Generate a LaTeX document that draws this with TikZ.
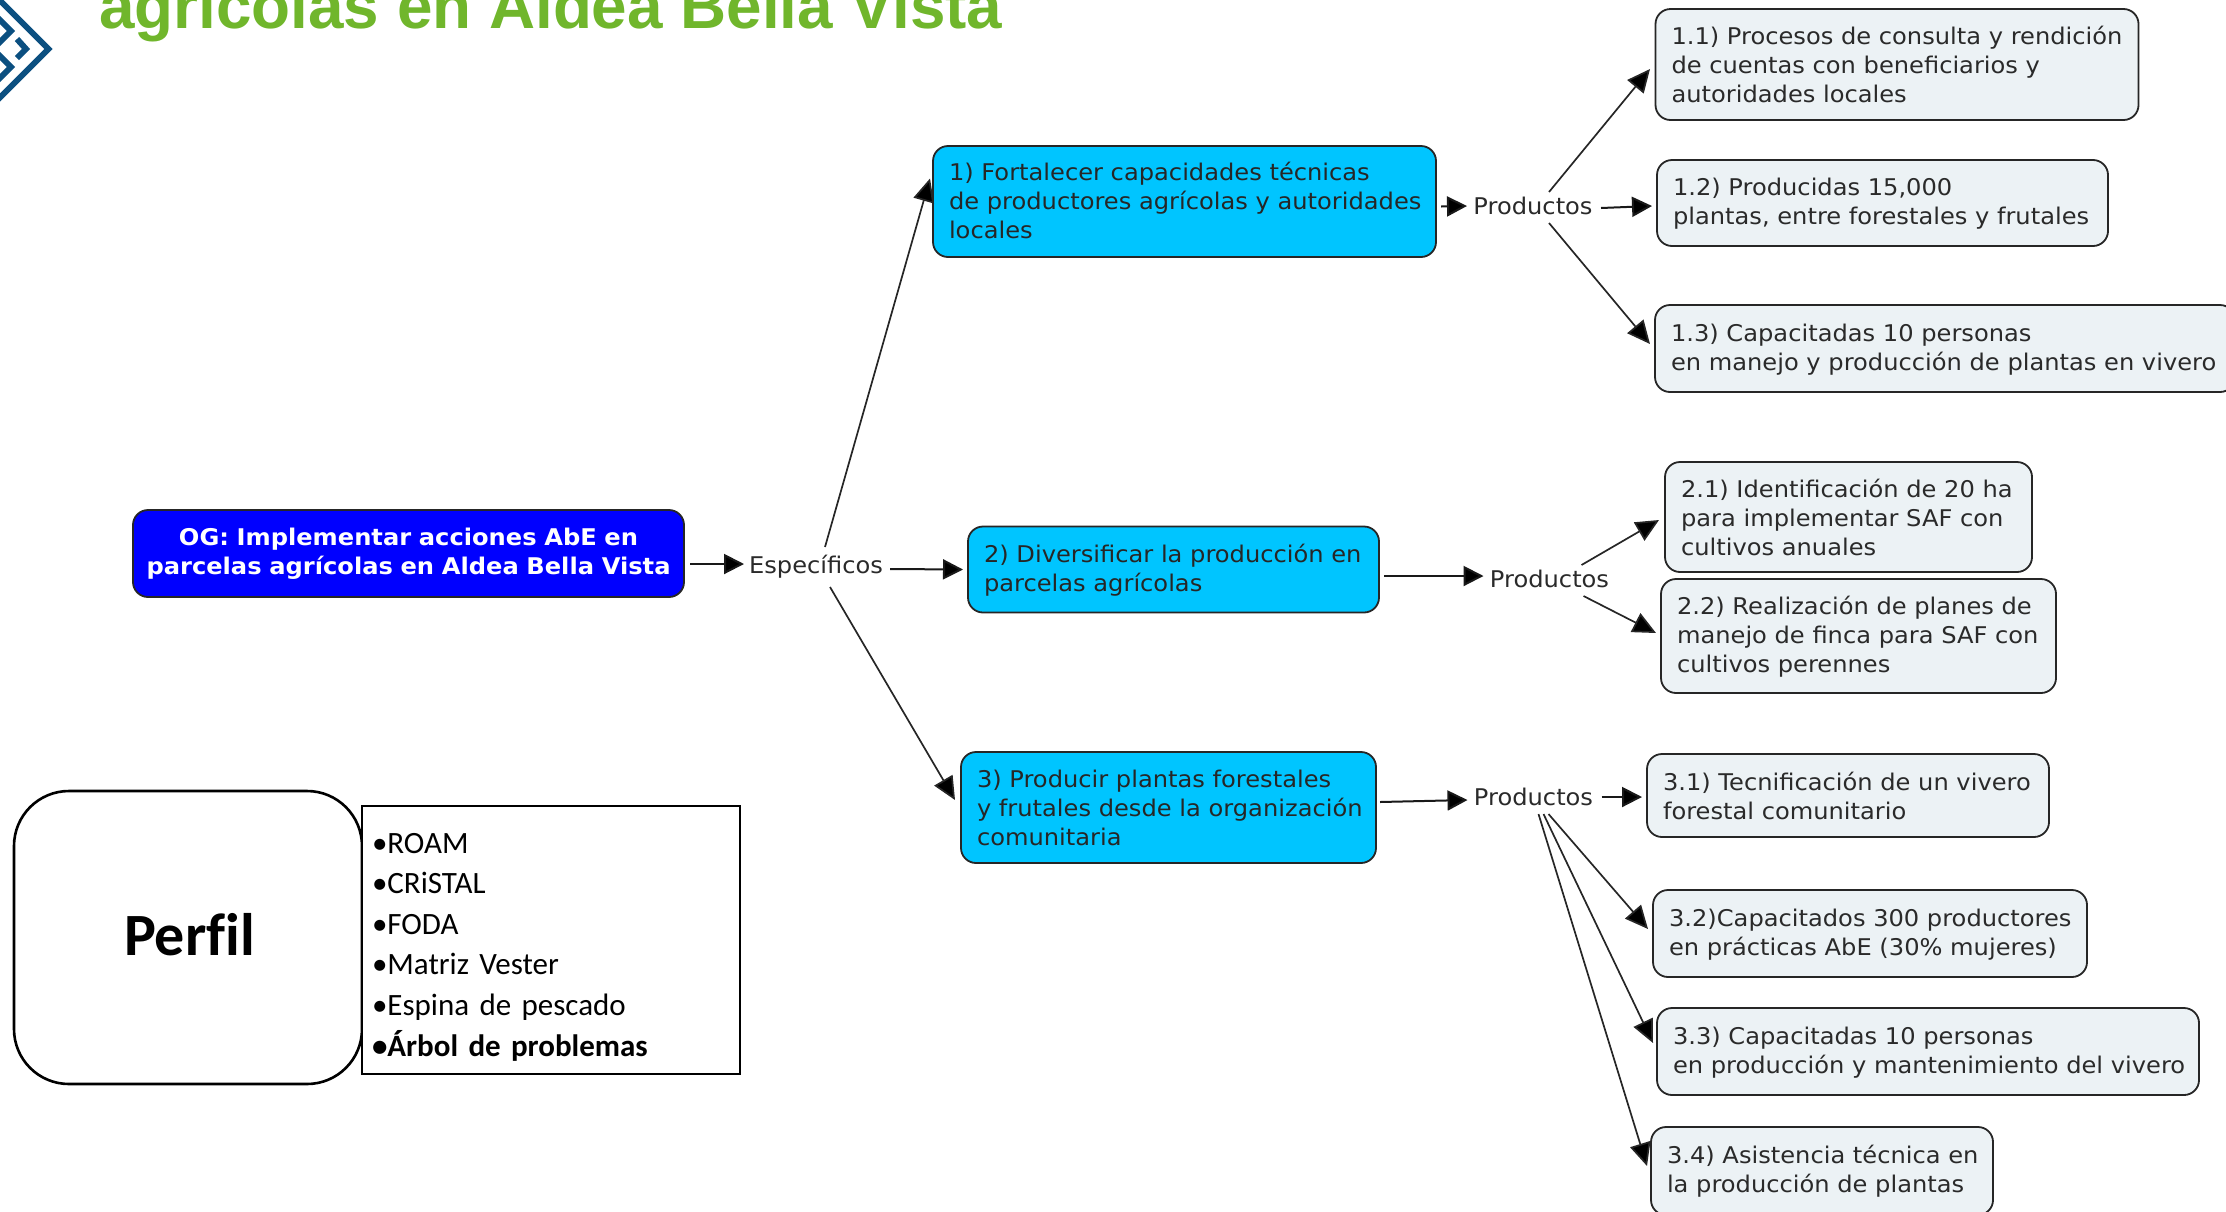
\documentclass[tikz,border=0pt]{standalone}
\usepackage{fontspec}
\setmainfont[FakeStretch=1.05]{DejaVu Sans}
\newfontfamily\carlito[Ligatures=NoCommon]{Carlito}
\newfontfamily\liberation{Liberation Sans}
\usetikzlibrary{arrows.meta}
\definecolor{cyanbox}{HTML}{00C5FF}
\definecolor{bluebox}{HTML}{0000FF}
\definecolor{lightbox}{HTML}{ECF2F5}
\definecolor{logoblue}{HTML}{0B4F80}
\definecolor{titlegreen}{HTML}{70B62C}
\definecolor{txt}{HTML}{2A2A2A}
\newcommand{\lns}[2][2pt]{\raisebox{-#1}[\height][\depth]{\begin{tabular}{@{}l@{}}#2\end{tabular}}}
\tikzset{
  basebox/.style 2 args={draw=black!85,line width=1.8pt,rounded corners=15pt,outer sep=0pt,
    inner xsep=16pt,inner ysep=0pt,minimum width=#1 pt,minimum height=#2 pt,text width=#1 pt-32pt,
    align=left,font=\fontsize{23}{29}\selectfont,text=txt},
  objbox/.style 2 args={basebox={#1}{#2},fill=cyanbox,text=black!85},
  prodbox/.style 2 args={basebox={#1}{#2},fill=lightbox},
  mainbox/.style 2 args={basebox={#1}{#2},fill=bluebox,text=white,align=center,inner xsep=4pt,text width=#1 pt-8pt,font=\fontsize{23}{29}\selectfont\bfseries},
  linker/.style={font=\fontsize{23}{29}\selectfont,text=txt,inner sep=0pt},
  arr/.style={-{Triangle[length=20pt,width=20pt,fill=black]},line width=2pt,black!90},
  diag/.style={-{Triangle[length=23pt,width=21pt,fill=black]},line width=1.7pt,black!85},
  logoline/.style={draw=logoblue,line width=6pt,miter limit=10}
}
\begin{document}
\begin{tikzpicture}[x=1pt,y=-1pt]
\useasboundingbox (0,0) rectangle (2226,1211);
% logo
\draw[logoline] (-6,-5.5) -- (48.5,49) -- (-6,103.5);
\draw[logoline] (-6,14) -- (11,31) -- (-6,48);
\draw[logoline] (-6,50) -- (11,67) -- (-6,84);
\draw[logoline] (17,39) -- (26,49) -- (17,58);
% title
\node[anchor=base west,inner sep=0pt,text=titlegreen,font=\liberation\fontsize{63.8}{70}\selectfont\bfseries] (title) at (99,28) {agrícolas en Aldea Bella Vista};
% nodes
\node[mainbox={551}{87}] (og) at (408.5,553.5) {OG: Implementar acciones AbE en\\parcelas agrícolas en Aldea Bella Vista};
\node[linker] (esp) at (816,566.5) {Específicos};
\node[objbox={503}{111}] (o1) at (1184.5,201.5) {\lns[2.5pt]{1) Fortalecer capacidades técnicas\\de productores agrícolas y autoridades\\locales}};
\node[objbox={411}{86}] (o2) at (1173.5,569.5) {\lns[2pt]{2) Diversificar la producción en\\parcelas agrícolas}};
\node[objbox={415}{111}] (o3) at (1168.5,807.5) {\lns[3pt]{3) Producir plantas forestales\\y frutales desde la organización\\comunitaria}};
\node[linker] (p1) at (1533,206) {Productos};
\node[linker] (p2) at (1549.5,579) {Productos};
\node[linker] (p3) at (1533.5,797) {Productos};
\node[prodbox={483}{111}] (a1) at (1897,64.5) {\lns[3pt]{1.1) Procesos de consulta y rendición\\de cuentas con beneficiarios y\\autoridades locales}};
\node[prodbox={451}{86}] (a2) at (1882.5,203) {\lns[1pt]{1.2) Producidas 15,000\\plantas, entre forestales y frutales}};
\node[prodbox={580}{87}] (a3) at (1945,348.5) {\lns[1.5pt]{1.3) Capacitadas 10 personas\\en manejo y producción de plantas en vivero}};
\node[prodbox={367}{110}] (b1) at (1848.5,517) {\lns[4pt]{2.1) Identificación de 20 ha\\para implementar SAF con\\cultivos anuales}};
\node[prodbox={395}{114}] (b2) at (1858.5,636) {\lns[1.5pt]{2.2) Realización de planes de\\manejo de finca para SAF con\\cultivos perennes}};
\node[prodbox={402}{83}] (c1) at (1848,795.5) {\lns[4pt]{3.1) Tecnificación de un vivero\\forestal comunitario}};
\node[prodbox={434}{87}] (c2) at (1870,933.5) {\lns[1.5pt]{3.2)Capacitados 300 productores\\en prácticas AbE (30\% mujeres)}};
\node[prodbox={542}{87}] (c3) at (1928,1051.5) {\lns[1.5pt]{3.3) Capacitadas 10 personas\\en producción y mantenimiento del vivero}};
\node[prodbox={342}{88}] (c4) at (1822,1171) {\lns[1pt]{3.4) Asistencia técnica en\\la producción de plantas}};
% perfil
\node[draw=black,line width=2.6pt,rounded corners=55pt,minimum width=348pt,minimum height=293pt,outer sep=0pt,inner sep=0pt,font=\carlito\fontsize{60}{60}\selectfont\bfseries] (perfil) at (188,937.5) {\hspace*{3pt}\raisebox{-17.5pt}[0pt][0pt]{Perfil}};
\node[draw=black,line width=1.8pt,fill=white,minimum width=378pt,minimum height=268pt,outer sep=0pt,inner xsep=10pt,inner ysep=0pt,text width=358pt,align=left,font=\carlito\fontsize{31}{40.6}\selectfont] (lista) at (551,940) {\rule{0pt}{34pt}•ROAM\\•CRiSTAL\\•FODA\\•Matriz Vester\\•Espina de pescado\\\textbf{•Árbol de problemas}};
% connectors
\draw[arr] ([shift={(6,10.5)}]og.east) -- ([shift={(-72,-2.5)}]esp.center);
\draw[arr] ([shift={(74,2.5)}]esp.center) -- ([shift={(-5,0)}]o2.west);
\draw[diag] ([shift={(9,-19.5)}]esp.center) -- ([shift={(-3,-23)}]o1.west);
\draw[diag] ([shift={(14,20.5)}]esp.center) -- ([shift={(-6,-7.5)}]o3.west);
\draw[arr] ([shift={(5,5)}]o1.east) -- ([shift={(-66,0)}]p1.center);
\draw[diag] ([shift={(16,-14)}]p1.center) -- ([shift={(-5.5,4.5)}]a1.west);
\draw[arr] ([shift={(68,2)}]p1.center) -- ([shift={(-5,3)}]a2.west);
\draw[diag] ([shift={(16,17)}]p1.center) -- ([shift={(-5,-4.5)}]a3.west);
\draw[arr] ([shift={(5,6.5)}]o2.east) -- ([shift={(-66,-3)}]p2.center);
\draw[diag] ([shift={(32,-14)}]p2.center) -- ([shift={(-6,3)}]b1.west);
\draw[diag] ([shift={(34,17)}]p2.center) -- ([shift={(-5,-3)}]b2.west);
\draw[arr] ([shift={(4,-5.5)}]o3.east) -- ([shift={(-66,3)}]p3.center);
\draw[arr] ([shift={(68,0)}]p3.center) -- ([shift={(-5,1.5)}]c1.west);
\draw[diag] ([shift={(15,17)}]p3.center) -- ([shift={(-5,-4.5)}]c2.west);
\draw[diag] ([shift={(10,17)}]p3.center) -- ([shift={(-4,-8.5)}]c3.west);
\draw[diag] ([shift={(5,17)}]p3.center) -- ([shift={(-4,-5)}]c4.west);
\end{tikzpicture}
\end{document}
